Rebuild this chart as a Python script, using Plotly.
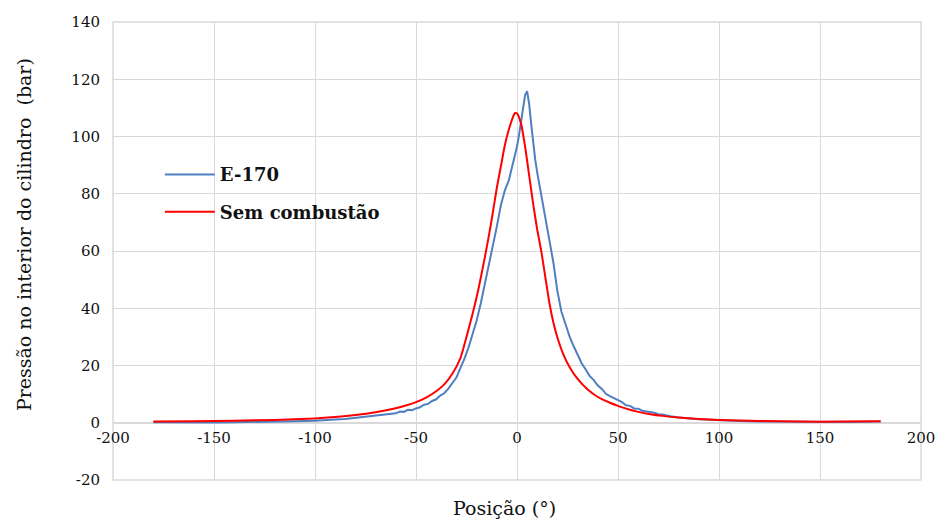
import plotly.graph_objects as go

# E-170 (measured, noisy)
e170X = [-180, -170, -160, -150, -140, -130, -120, -110, -100, -95, -90, -85, -80, -76, -72, -68, -64,
         -60, -58, -56, -54, -52, -50, -48, -46, -44, -42, -40, -38, -36, -34, -32, -30, -28, -26, -24,
         -22, -20, -18, -16, -14, -12, -10, -8, -6, -4, -2, 0, 1, 2, 3, 4, 5, 6, 7, 8, 9, 10, 12, 14,
         16, 18, 20, 22, 24, 26, 28, 30, 32, 34, 36, 38, 40, 42, 44, 46, 48, 50, 52, 54, 56, 58, 60,
         62, 64, 66, 68, 70, 72, 76, 80, 90, 100, 110, 120, 135, 150, 165, 180]
e170Y = [0.2, 0.1, 0.2, 0.1, 0.2, 0.3, 0.2, 0.5, 0.7, 0.8, 1.1, 1.3, 1.7, 1.9, 2.4, 2.6, 3.1,
         3.3, 3.9, 3.8, 4.5, 4.4, 5.0, 5.4, 6.3, 6.6, 7.6, 8.2, 9.5, 10.3, 11.9, 14.0, 15.8, 19.2, 22.4, 26.3,
         30.8, 35.6, 41.5, 48.2, 55.0, 61.3, 68.5, 76.0, 81.2, 84.8, 90.5, 96.5, 100.5, 105.0, 110.0, 114.5, 115.8, 111.5, 104.5, 97.5, 92.0, 87.5, 79.5, 72.5,
         64.5, 56.0, 46.0, 38.8, 34.5, 30.2, 26.8, 23.8, 20.8, 18.6, 16.3, 14.9, 13.0, 11.8, 10.1, 9.3, 8.6, 7.7, 7.2, 6.1, 5.9, 5.0, 4.9,
         4.2, 4.0, 3.6, 3.5, 3.0, 2.9, 2.3, 1.8, 1.2, 0.8, 0.6, 0.4, 0.3, 0.2, 0.3, 0.4]

# Sem combustao (motoring)
motorX = [-180, -160, -140, -120, -100, -90, -80, -70, -60, -55, -50, -45, -40, -36, -32, -28, -25, -22,
          -19, -16, -13, -10, -8, -6, -4, -2, -1, 0, 2, 4, 6, 8, 10, 12, 14, 16, 18, 20, 23, 26, 30, 35,
          40, 46, 50, 55, 60, 66, 72, 80, 90, 100, 120, 140, 160, 180]
motorY = [0.4, 0.5, 0.7, 1.0, 1.5, 2.0, 2.7, 3.7, 5.1, 6.0, 7.2, 8.8, 11.0, 13.4, 17.1, 22.6, 30.0, 38.0,
          47.0, 57.5, 69.0, 82.0, 89.5, 97.0, 102.5, 106.8, 108.2, 108.0, 104.5, 96.5, 86.5, 76.5, 67.5, 60.0, 51.0, 42.0, 35.0, 29.8, 23.8, 19.5, 15.3, 11.6,
          9.0, 7.0, 5.9, 4.7, 3.8, 3.0, 2.4, 1.8, 1.3, 1.0, 0.6, 0.4, 0.4, 0.5]

xTicks = [-200, -150, -100, -50, 0, 50, 100, 150, 200]
yTicks = [-20, 0, 20, 40, 60, 80, 100, 120, 140]

serif = "DejaVu Serif"
gridColor = "#d9d9d9"
textColor = "#111111"

fig = go.Figure()

fig.add_trace(go.Scatter(
    x=e170X, y=e170Y, mode="lines", name="E-170", legendgroup="a",
    line=dict(color="#4f7fc0", width=2)
))
fig.add_trace(go.Scatter(
    x=motorX, y=motorY, mode="lines", name="Sem combustão", legendgroup="b",
    line=dict(color="#ff0000", width=2, shape="spline", smoothing=0.6)
))

fig.update_layout(
    width=938, height=520,
    margin=dict(l=113, r=17, t=22, b=40),
    paper_bgcolor="white", plot_bgcolor="white",
    font=dict(family=serif, color=textColor, size=15),
    showlegend=True,
    legend=dict(
        x=0.058, y=0.707, xanchor="left", yanchor="top",
        bgcolor="rgba(0,0,0,0)", font=dict(size=18, family=serif, color=textColor, weight="bold"),
        tracegroupgap=11, itemwidth=50,
    ),
    xaxis=dict(
        range=[-200, 200], tickvals=xTicks, ticktext=[str(v) for v in xTicks],
        showgrid=True, gridcolor=gridColor, gridwidth=1,
        zeroline=False, showline=False, automargin=False,
        anchor="free", position=20 / 160,
        tickfont=dict(size=15, family=serif, color=textColor),
        ticks="", ticklabelstandoff=4,
    ),
    yaxis=dict(
        range=[-20, 140], tickvals=yTicks, ticktext=[str(v) for v in yTicks],
        showgrid=True, gridcolor=gridColor, gridwidth=1,
        zeroline=True, zerolinecolor=gridColor, zerolinewidth=1.5,
        showline=False, automargin=False,
        tickfont=dict(size=15, family=serif, color=textColor),
        ticks="", ticklabelstandoff=12,
    ),
    shapes=[dict(type="rect", xref="paper", yref="paper", x0=0, x1=1, y0=0, y1=1,
                 line=dict(color=gridColor, width=1.5), layer="below")],
    annotations=[
        dict(text="Posição (°)", xref="paper", yref="paper", x=0.485, y=-0.062,
             showarrow=False, font=dict(size=19, family=serif, color=textColor),
             xanchor="center", yanchor="middle"),
        dict(text="Pressão no interior do cilindro  (bar)", xref="paper", yref="paper",
             x=-0.11, y=0.535, textangle=-90, showarrow=False,
             font=dict(size=19, family=serif, color=textColor),
             xanchor="center", yanchor="middle"),
    ],
)

fig.write_html("out.html", config={"displayModeBar": False},
               post_script="document.body.style.margin='0';document.body.style.overflow='hidden';")
